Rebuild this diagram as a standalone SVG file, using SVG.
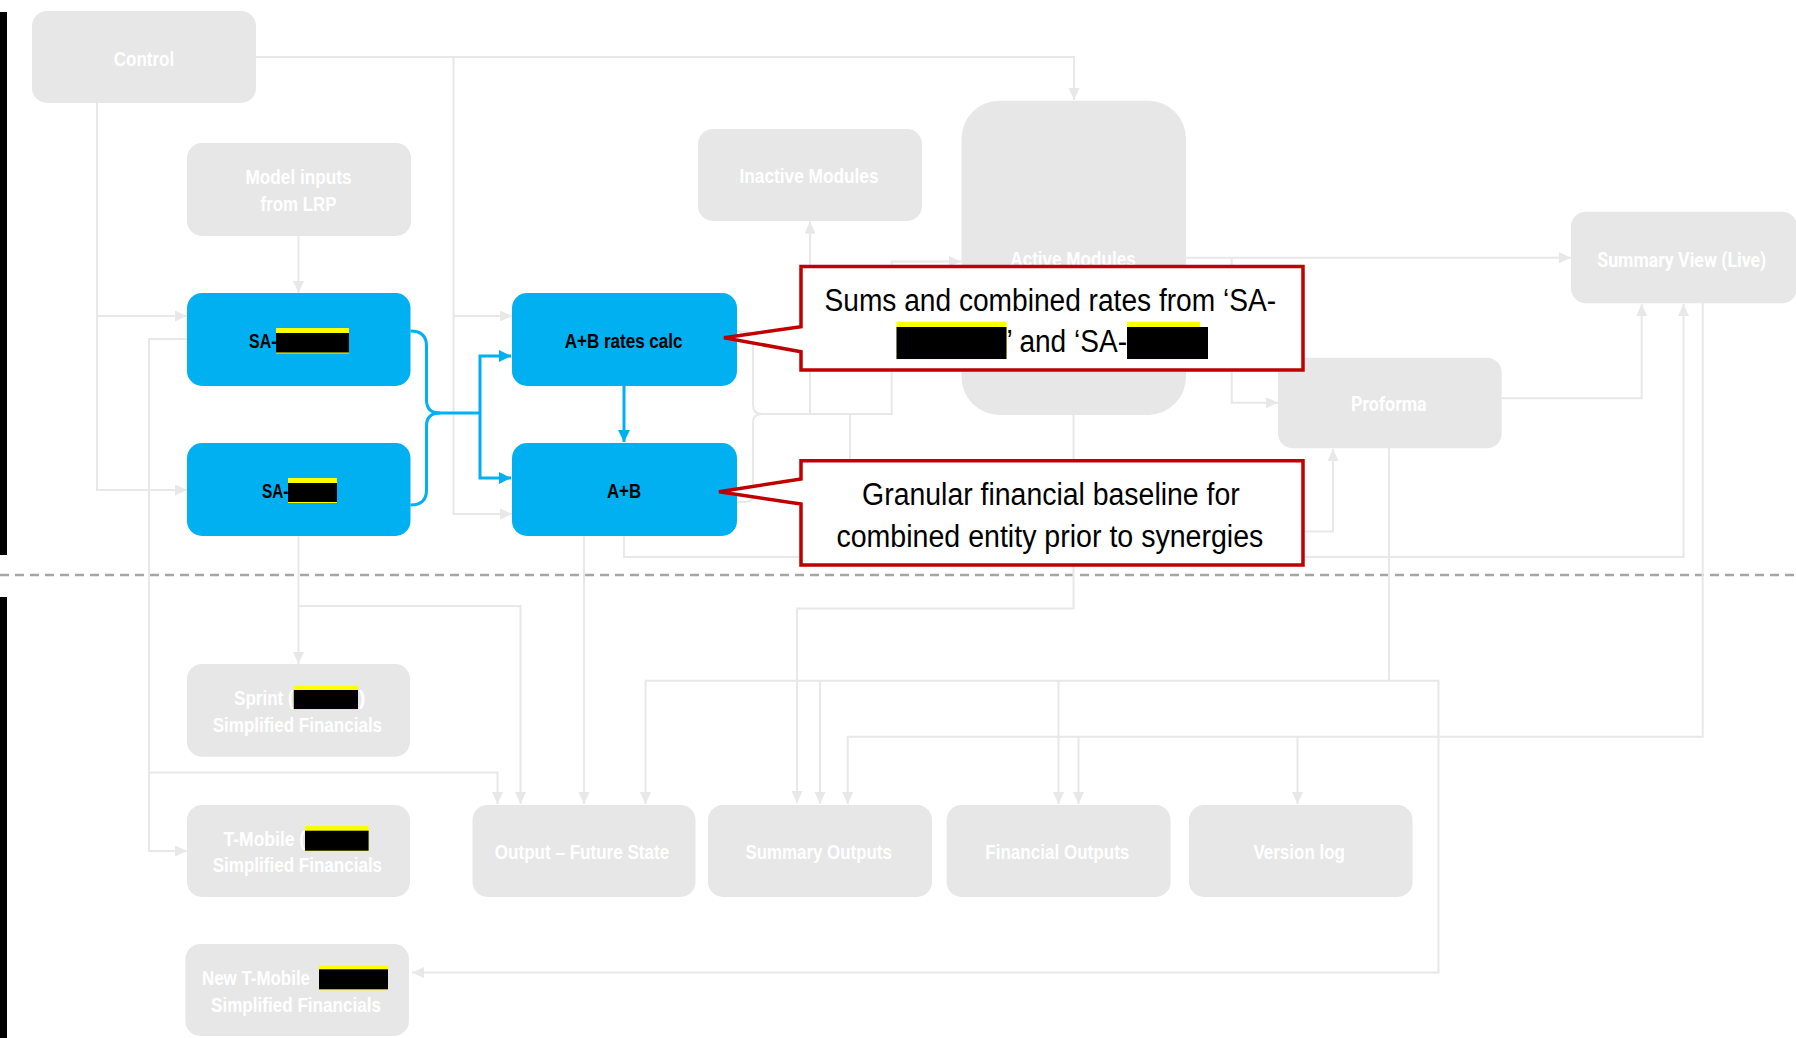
<svg xmlns="http://www.w3.org/2000/svg" width="1796" height="1038" viewBox="0 0 1796 1038">
<style>
.gbox{fill:#e7e7e7}
.bbox{fill:#00b0f0}
.gl{font-family:"Liberation Sans Narrow","Liberation Sans",sans-serif;font-weight:bold;font-size:21px;fill:#ffffff}
.gr{font-family:Roboto,"Liberation Sans",sans-serif;font-weight:bold;font-size:21px;fill:#ffffff}
.bl{font-family:"Liberation Sans Narrow","Liberation Sans",sans-serif;font-weight:bold;font-size:21px;fill:#000000}
.ct{font-family:"Liberation Sans Narrow","Liberation Sans",sans-serif;font-size:31px;fill:#000000}
.conn path{fill:none;stroke:#e8e8e8;stroke-width:2}
.blue path{fill:none;stroke:#00b0f0;stroke-width:3}
.callout{fill:#ffffff;stroke:#c00000;stroke-width:3.5}
.red{fill:#000000}
.yel{fill:#ffff00}
</style>
<defs>
<marker id="ag" markerUnits="userSpaceOnUse" markerWidth="13" markerHeight="12" refX="12" refY="5.5" orient="auto">
<path d="M0,0 L12,5.5 L0,11 Z" fill="#e8e8e8"/>
</marker>
<marker id="ab" markerUnits="userSpaceOnUse" markerWidth="13" markerHeight="13" refX="12" refY="6" orient="auto">
<path d="M0,0 L12,6 L0,12 Z" fill="#00b0f0"/>
</marker>
</defs>
<rect width="1796" height="1038" fill="#ffffff"/>
<rect x="0" y="12" width="7" height="543" fill="#000"/>
<rect x="0" y="597" width="7" height="441" fill="#000"/>
<line x1="0" y1="575" x2="1796" y2="575" stroke="#a6a6a6" stroke-width="2.5" stroke-dasharray="9 6"/>

<g id="connectors" class="conn">
<path d="M256,57 H1074 V100" marker-end="url(#ag)"/>
<path d="M97,103 V490 H187" marker-end="url(#ag)"/>
<path d="M97,316 H187" marker-end="url(#ag)"/>
<path d="M453.5,57 V514 H512" marker-end="url(#ag)"/>
<path d="M453.5,316 H512" marker-end="url(#ag)"/>
<path d="M298.5,236 V293" marker-end="url(#ag)"/>
<path d="M187,339 H149 V851 H187" marker-end="url(#ag)"/>
<path d="M149,772.5 H497.5 V804" marker-end="url(#ag)"/>
<path d="M298.5,536 V664" marker-end="url(#ag)"/>
<path d="M298.5,606 H520.5 V804" marker-end="url(#ag)"/>
<path d="M584,536 V804" marker-end="url(#ag)"/>
<path d="M624,536 V557 H1683.5 V304" marker-end="url(#ag)"/>
<path d="M737,331.7 H745 Q753,331.7 753,340 V405 Q753,414 762,414 H891.7 V261.5 H961" marker-end="url(#ag)"/>
<path d="M810,414 V221.5" marker-end="url(#ag)"/>
<path d="M737,502 H745 Q753,502 753,494 V423 Q753,414 762,414 H850 V531.5 H1333 V449" marker-end="url(#ag)"/>
<path d="M1186,257.7 H1571" marker-end="url(#ag)"/>
<path d="M1231.7,257.7 V402.7 H1278" marker-end="url(#ag)"/>
<path d="M1501.7,398.3 H1641.7 V304" marker-end="url(#ag)"/>
<path d="M1073.5,415 V608.5 H797 V803" marker-end="url(#ag)"/>
<path d="M1389,448 V680.7 H645.5 V804" marker-end="url(#ag)"/>
<path d="M1389,680.7 H1438.5 V972.5 H412" marker-end="url(#ag)"/>
<path d="M820,680.7 V804" marker-end="url(#ag)"/>
<path d="M1058.5,680.7 V804" marker-end="url(#ag)"/>
<path d="M1702.7,303 V736.7 H847.7 V804" marker-end="url(#ag)"/>
<path d="M1078.5,736.7 V804" marker-end="url(#ag)"/>
<path d="M1297.5,736.7 V804" marker-end="url(#ag)"/>
</g>

<g id="connectors-blue" class="blue">
<path d="M410.5,331 Q426.5,331 426.5,346 V400 Q426.5,413 440,413 H480"/>
<path d="M410.5,505 Q426.5,505 426.5,490 V426 Q426.5,413 440,413"/>
<path d="M480,413 V356 H511" marker-end="url(#ab)"/>
<path d="M480,413 V478 H511" marker-end="url(#ab)"/>
<path d="M624,386 V442" marker-end="url(#ab)"/>
</g>

<g id="control">
<rect class="gbox" x="32" y="11" width="224" height="92" rx="15"/>
<text class="gl" x="144" y="65.5" text-anchor="middle" textLength="60.5" lengthAdjust="spacingAndGlyphs">Control</text>
</g>
<g id="model-inputs">
<rect class="gbox" x="187" y="143" width="224" height="93" rx="15"/>
<text class="gl" x="298.5" y="184.3" text-anchor="middle" textLength="106" lengthAdjust="spacingAndGlyphs">Model inputs</text>
<text class="gl" x="298.5" y="211" text-anchor="middle" textLength="75.8" lengthAdjust="spacingAndGlyphs">from LRP</text>
</g>
<g id="sa1">
<rect class="bbox" x="187" y="293" width="223.5" height="93" rx="15"/>
<text class="bl" x="249" y="348.3" textLength="27.5" lengthAdjust="spacingAndGlyphs">SA-</text>
<rect class="yel" x="276" y="328" width="73" height="25.5"/>
<rect class="red" x="276" y="333" width="73" height="19.5"/>
</g>
<g id="sa2">
<rect class="bbox" x="187" y="443" width="223.5" height="93" rx="15"/>
<text class="bl" x="262" y="497.7" textLength="26.5" lengthAdjust="spacingAndGlyphs">SA-</text>
<rect class="yel" x="288" y="478" width="49" height="25"/>
<rect class="red" x="288" y="483" width="49" height="19"/>
</g>
<g id="ab-rates">
<rect class="bbox" x="512" y="293" width="225" height="93" rx="15"/>
<text class="bl" x="623.6" y="348.3" text-anchor="middle" textLength="117.8" lengthAdjust="spacingAndGlyphs">A+B rates calc</text>
</g>
<g id="ab">
<rect class="bbox" x="512" y="443" width="225" height="93" rx="15"/>
<text class="bl" x="624" y="497.7" text-anchor="middle" textLength="34" lengthAdjust="spacingAndGlyphs">A+B</text>
</g>
<g id="inactive-modules">
<rect class="gbox" x="698" y="129" width="224" height="92" rx="15"/>
<text class="gl" x="809" y="183.3" text-anchor="middle" textLength="139" lengthAdjust="spacingAndGlyphs">Inactive Modules</text>
</g>
<g id="active-modules">
<rect class="gbox" x="961.5" y="100.7" width="224.5" height="314.3" rx="38"/>
<text class="gl" x="1073" y="266" text-anchor="middle" textLength="125.3" lengthAdjust="spacingAndGlyphs">Active Modules</text>
</g>
<g id="summary-view">
<rect class="gbox" x="1571" y="211.7" width="226" height="91.6" rx="15"/>
<text class="gr" x="1681.8" y="267.3" text-anchor="middle" textLength="169" lengthAdjust="spacingAndGlyphs">Summary View (Live)</text>
</g>
<g id="proforma">
<rect class="gbox" x="1278" y="357.7" width="223.7" height="90.6" rx="15"/>
<text class="gr" x="1388.8" y="411" text-anchor="middle" textLength="75.7" lengthAdjust="spacingAndGlyphs">Proforma</text>
</g>
<g id="sprint">
<rect class="gbox" x="187" y="664" width="223" height="92.7" rx="15"/>
<text class="gl" x="234" y="705" textLength="59.7" lengthAdjust="spacingAndGlyphs">Sprint (</text>
<rect class="yel" x="293.8" y="686" width="64.2" height="24"/>
<rect class="red" x="293.8" y="690" width="64.2" height="19"/>
<text class="gl" x="358.5" y="705">)</text>
<text class="gl" x="297.4" y="731.7" text-anchor="middle" textLength="169.4" lengthAdjust="spacingAndGlyphs">Simplified Financials</text>
</g>
<g id="tmobile">
<rect class="gbox" x="187" y="805" width="223" height="92" rx="15"/>
<text class="gl" x="223.5" y="846" textLength="81.7" lengthAdjust="spacingAndGlyphs">T-Mobile (</text>
<rect class="yel" x="305" y="826" width="63.6" height="25.5"/>
<rect class="red" x="305" y="830.7" width="63.6" height="20"/>
<text class="gl" x="297.4" y="871.7" text-anchor="middle" textLength="169.4" lengthAdjust="spacingAndGlyphs">Simplified Financials</text>
</g>
<g id="new-tmobile">
<rect class="gbox" x="185.4" y="944" width="223.6" height="92" rx="15"/>
<text class="gl" x="202" y="985" textLength="108" lengthAdjust="spacingAndGlyphs">New T-Mobile</text>
<rect class="yel" x="319" y="965.3" width="69" height="25"/>
<rect class="red" x="319" y="969.3" width="69" height="20"/>
<text class="gl" x="296" y="1011.7" text-anchor="middle" textLength="170" lengthAdjust="spacingAndGlyphs">Simplified Financials</text>
</g>
<g id="output-future">
<rect class="gbox" x="472.5" y="805" width="223" height="92" rx="15"/>
<text class="gl" x="582" y="859.3" text-anchor="middle" textLength="174.4" lengthAdjust="spacingAndGlyphs">Output – Future State</text>
</g>
<g id="summary-outputs">
<rect class="gbox" x="708" y="805" width="224" height="92" rx="15"/>
<text class="gl" x="818.6" y="859.3" text-anchor="middle" textLength="146.4" lengthAdjust="spacingAndGlyphs">Summary Outputs</text>
</g>
<g id="financial-outputs">
<rect class="gbox" x="946.6" y="805" width="224" height="92" rx="15"/>
<text class="gl" x="1057.3" y="859.3" text-anchor="middle" textLength="144" lengthAdjust="spacingAndGlyphs">Financial Outputs</text>
</g>
<g id="version-log">
<rect class="gbox" x="1189" y="805" width="223.5" height="92" rx="15"/>
<text class="gl" x="1299.2" y="859.3" text-anchor="middle" textLength="91.6" lengthAdjust="spacingAndGlyphs">Version log</text>
</g>

<g id="callout-1">
<path class="callout" d="M801,266.5 H1303 V370 H801 V351.7 L724,337.7 L801,326.7 Z"/>
<text class="ct" x="1050.3" y="310.7" text-anchor="middle" textLength="451.6" lengthAdjust="spacingAndGlyphs">Sums and combined rates from ‘SA-</text>
<rect class="yel" x="896.5" y="321.7" width="110" height="37.5"/>
<rect class="red" x="896.5" y="327" width="110" height="32"/>
<text class="ct" x="1006.4" y="351.7" textLength="120.6" lengthAdjust="spacingAndGlyphs">’ and ‘SA-</text>
<rect class="yel" x="1127" y="321.7" width="73" height="37.5"/>
<rect class="red" x="1127" y="327" width="81" height="32"/>
</g>
<g id="callout-2">
<path class="callout" d="M801,460.7 H1303 V565 H801 V504 L719,491.7 L801,479 Z"/>
<text class="ct" x="1050.9" y="505" text-anchor="middle" textLength="377.6" lengthAdjust="spacingAndGlyphs">Granular financial baseline for</text>
<text class="ct" x="1049.9" y="546.5" text-anchor="middle" textLength="427" lengthAdjust="spacingAndGlyphs">combined entity prior to synergies</text>
</g>
</svg>
